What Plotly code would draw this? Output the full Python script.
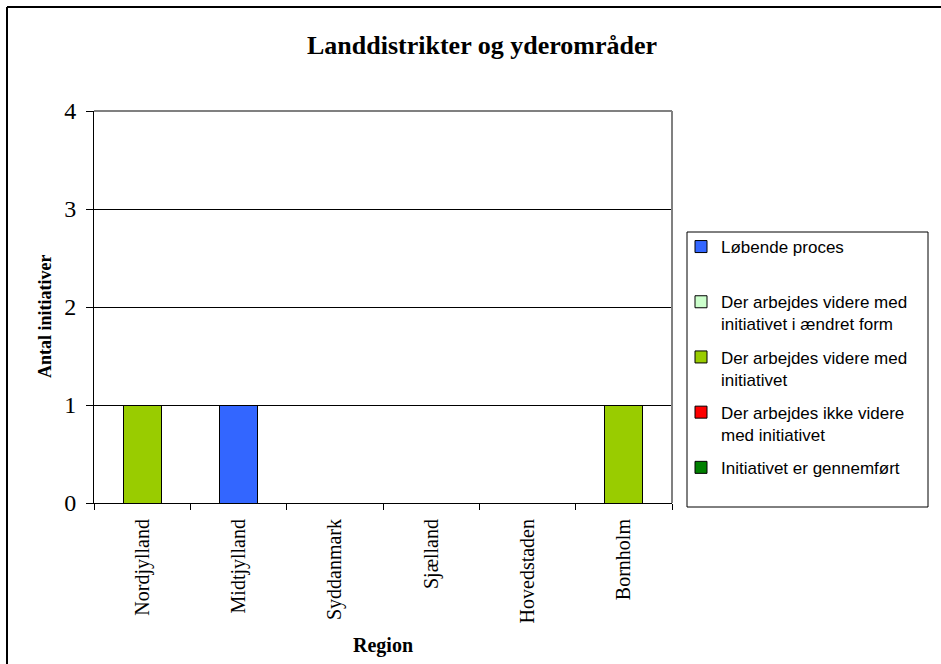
import plotly.graph_objects as go

regions = ["Nordjylland", "Midtjylland", "Syddanmark", "Sjælland", "Hovedstaden", "Bornholm"]

series_names = [
    "Løbende proces<br> ",
    "Der arbejdes videre med<br>initiativet i ændret form",
    "Der arbejdes videre med<br>initiativet",
    "Der arbejdes ikke videre<br>med initiativet",
    "Initiativet er gennemført<br> ",
]
loebende = [0, 1, 0, 0, 0, 0]
aendret_form = [0, 0, 0, 0, 0, 0]
videre = [1, 0, 0, 0, 0, 1]
ikke_videre = [0, 0, 0, 0, 0, 0]
gennemfoert = [0, 0, 0, 0, 0, 0]
series_values = [loebende, aendret_form, videre, ikke_videre, gennemfoert]
colors = ["#3366FF", "#CCFFCC", "#99CC00", "#FF0000", "#008000"]

# pixel geometry of plot area in the 941x664 page
L, R, T, B = 94, 672, 111, 503
W, H = 941, 664
pw, ph = R - L, B - T


def px(x):
    return (x - L) / pw


def py(y):
    return (B - y) / ph


fig = go.Figure()
for i, (name, vals, col) in enumerate(zip(series_names, series_values, colors)):
    fig.add_trace(go.Bar(x=regions, y=vals, name=name, legendgroup=str(i),
                         marker=dict(color=col, line=dict(color="black", width=1))))

serif = "Liberation Serif, Times New Roman, serif"
sans = "Liberation Sans, Arial, sans-serif"

fig.update_layout(
    width=W, height=H,
    margin=dict(l=L, r=W - R, t=T, b=H - B, autoexpand=False),
    barmode="stack", bargap=0.605,
    paper_bgcolor="white", plot_bgcolor="white",
    title=dict(text="<b>Landdistrikter og yderområder</b>", xref="paper", x=px(482),
               y=1 - 45 / H, xanchor="center", yanchor="middle",
               font=dict(family=serif, size=26, color="black")),
    xaxis=dict(showgrid=False, showline=True, linecolor="black", linewidth=1,
               ticks="outside", ticklen=6, tickcolor="black", tickson="boundaries",
               ticklabelstandoff=7,
               tickangle=-90, tickfont=dict(family=serif, size=20, color="black")),
    yaxis=dict(range=[0, 4], dtick=1, showgrid=True, gridcolor="black", gridwidth=1,
               showline=True, linecolor="black", linewidth=1, zeroline=False,
               ticks="outside", ticklen=7, tickcolor="black", ticklabelstandoff=5,
               tickfont=dict(family=serif, size=24, color="black")),
    legend=dict(x=px(681), y=py(229), xanchor="left", yanchor="top",
                traceorder="grouped", tracegroupgap=8, valign="top",
                borderwidth=0, bgcolor="rgba(0,0,0,0)",
                font=dict(family=sans, size=17, color="black")),
    annotations=[
        dict(text="<b>Region</b>", xref="paper", yref="paper", x=px(383), y=py(645),
             xanchor="center", yanchor="middle", showarrow=False,
             font=dict(family=serif, size=20, color="black")),
        dict(text="<b>Antal initiativer</b>", xref="paper", yref="paper", x=px(45), y=py(316),
             xanchor="center", yanchor="middle", textangle=-90, showarrow=False,
             font=dict(family=serif, size=18, color="black")),
    ],
    shapes=[
        # plot area border (top/right, grey)
        dict(type="line", xref="paper", yref="paper", x0=0, x1=1, y0=1, y1=1,
             line=dict(color="#808080", width=2)),
        dict(type="line", xref="paper", yref="paper", x0=1, x1=1, y0=0, y1=1,
             line=dict(color="#808080", width=2)),
        # legend box
        dict(type="rect", xref="paper", yref="paper", x0=px(687), x1=px(928),
             y0=py(507), y1=py(232), line=dict(color="black", width=1)),
        # outer chart frame
        dict(type="line", xref="paper", yref="paper", x0=px(7), x1=px(960),
             y0=py(7), y1=py(7), line=dict(color="black", width=2)),
        dict(type="line", xref="paper", yref="paper", x0=px(7), x1=px(7),
             y0=py(7), y1=py(700), line=dict(color="black", width=2)),
    ],
)

fig.write_html("out.html", config={"displayModeBar": False},
               post_script="document.body.style.margin='0';")
